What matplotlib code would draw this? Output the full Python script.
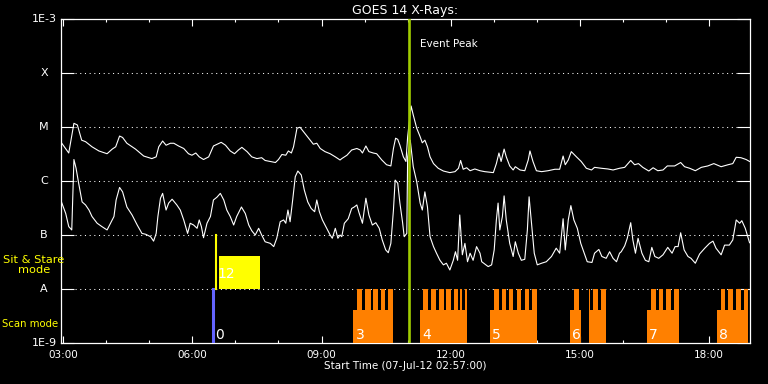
import matplotlib
matplotlib.use("Agg")
import matplotlib.pyplot as plt
from matplotlib.ticker import FixedLocator, MultipleLocator, FuncFormatter, NullLocator

# ==========================================
# 1. Data
# ==========================================
T_START, T_END = 2.95, 18.95   # hours, 02:57 -> 18:57
EVENT_T = 11.04

# GOES long channel (1-8 A), hours / W m^-2
long_t = [2.96, 3.13, 3.25, 3.33, 3.43, 3.52, 3.67, 3.83, 4.02, 4.14,
          4.22, 4.31, 4.38, 4.48, 4.68, 4.87, 5.06, 5.16, 5.22, 5.31,
          5.39, 5.49, 5.57, 5.68, 5.80, 5.91, 5.99, 6.08, 6.16, 6.26,
          6.38, 6.49, 6.67, 6.77, 6.88, 6.98, 7.07, 7.15, 7.27, 7.38,
          7.50, 7.61, 7.69, 7.81, 7.93, 8.00, 8.08, 8.17, 8.23, 8.30,
          8.35, 8.43, 8.50, 8.58, 8.70, 8.81, 8.89, 8.97, 9.08, 9.20,
          9.32, 9.43, 9.47, 9.59, 9.70, 9.82, 9.90, 9.95, 10.03, 10.10,
          10.20, 10.28, 10.40, 10.51, 10.61, 10.67, 10.72, 10.77, 10.82, 10.90,
          10.96, 11.00, 11.08, 11.13, 11.21, 11.29, 11.34, 11.40, 11.46, 11.52,
          11.60, 11.71, 11.83, 11.98, 12.10, 12.18, 12.23, 12.29, 12.37, 12.45,
          12.56, 12.68, 12.79, 12.99, 13.06, 13.12, 13.17, 13.24, 13.29, 13.37,
          13.45, 13.50, 13.61, 13.72, 13.80, 13.84, 13.91, 13.99, 14.11, 14.26,
          14.42, 14.53, 14.61, 14.66, 14.73, 14.80, 14.92, 15.03, 15.15, 15.27,
          15.34, 15.50, 15.65, 15.77, 15.92, 16.04, 16.18, 16.27, 16.36, 16.46,
          16.60, 16.70, 16.81, 16.93, 17.03, 17.20, 17.34, 17.43, 17.55, 17.68,
          17.82, 17.97, 18.11, 18.28, 18.44, 18.55, 18.63, 18.74, 18.86, 18.94]
long_f = [5.1e-6, 3.3e-6, 1.17e-5, 1.09e-5, 5.7e-6, 5.35e-6, 4.3e-6, 3.6e-6, 3.2e-6, 3.9e-6,
          4.3e-6, 6.8e-6, 6.4e-6, 5.0e-6, 3.9e-6, 2.9e-6, 2.6e-6, 2.8e-6, 4.3e-6, 5.5e-6,
          4.6e-6, 5.0e-6, 5.0e-6, 4.45e-6, 4.0e-6, 3.2e-6, 3.0e-6, 3.3e-6, 2.8e-6, 2.5e-6,
          2.8e-6, 4.45e-6, 5.2e-6, 4.6e-6, 3.6e-6, 3.2e-6, 3.75e-6, 4.2e-6, 3.5e-6, 2.8e-6,
          2.6e-6, 2.7e-6, 2.4e-6, 2.3e-6, 2.2e-6, 2.5e-6, 3.1e-6, 3.0e-6, 3.6e-6, 3.3e-6,
          4.3e-6, 9.5e-6, 9.9e-6, 8.2e-6, 6.2e-6, 4.8e-6, 5.0e-6, 4.0e-6, 3.5e-6, 3.2e-6,
          2.8e-6, 2.45e-6, 2.6e-6, 3.0e-6, 3.75e-6, 4.0e-6, 3.75e-6, 3.3e-6, 4.45e-6, 3.5e-6,
          3.3e-6, 3.2e-6, 2.45e-6, 2.0e-6, 1.9e-6, 4.0e-6, 6.2e-6, 5.9e-6, 4.6e-6, 2.8e-6,
          2.3e-6, 6.6e-6, 2.45e-5, 1.67e-5, 9.5e-6, 6.6e-6, 5.1e-6, 5.7e-6, 4.3e-6, 2.8e-6,
          2.1e-6, 1.72e-6, 1.53e-6, 1.43e-6, 1.49e-6, 1.72e-6, 2.4e-6, 1.65e-6, 1.76e-6, 1.55e-6,
          1.67e-6, 1.55e-6, 1.49e-6, 1.43e-6, 2.1e-6, 3.3e-6, 2.3e-6, 3.9e-6, 2.8e-6, 1.9e-6,
          1.6e-6, 1.84e-6, 1.6e-6, 1.55e-6, 2.45e-6, 3.6e-6, 2.3e-6, 1.55e-6, 1.49e-6, 1.55e-6,
          1.65e-6, 1.65e-6, 2.9e-6, 2.0e-6, 2.45e-6, 3.5e-6, 2.8e-6, 2.3e-6, 1.72e-6, 1.6e-6,
          1.79e-6, 1.72e-6, 1.67e-6, 1.6e-6, 1.72e-6, 1.79e-6, 2.4e-6, 2.0e-6, 2.1e-6, 1.79e-6,
          1.53e-6, 1.76e-6, 1.55e-6, 1.6e-6, 1.9e-6, 1.9e-6, 2.2e-6, 1.84e-6, 1.72e-6, 1.55e-6,
          1.79e-6, 1.9e-6, 2.1e-6, 1.84e-6, 2.0e-6, 2.1e-6, 2.75e-6, 2.7e-6, 2.5e-6, 2.3e-6]

# GOES short channel (0.5-4 A)
short_t = [2.96, 3.06, 3.13, 3.20, 3.25, 3.30, 3.36, 3.44, 3.52, 3.60,
           3.67, 3.79, 3.90, 4.02, 4.10, 4.18, 4.23, 4.31, 4.38, 4.48,
           4.60, 4.72, 4.83, 4.92, 5.03, 5.10, 5.16, 5.20, 5.26, 5.31,
           5.39, 5.45, 5.53, 5.64, 5.72, 5.80, 5.89, 5.95, 6.03, 6.11,
           6.16, 6.21, 6.26, 6.34, 6.42, 6.49, 6.57, 6.65, 6.73, 6.80,
           6.88, 6.96, 7.03, 7.14, 7.23, 7.31, 7.38, 7.46, 7.54, 7.61,
           7.69, 7.81, 7.89, 7.96, 8.04, 8.12, 8.17, 8.22, 8.27, 8.33,
           8.39, 8.45, 8.53, 8.60, 8.68, 8.76, 8.84, 8.89, 8.95, 9.02,
           9.12, 9.20, 9.25, 9.32, 9.38, 9.43, 9.47, 9.53, 9.62, 9.70,
           9.76, 9.82, 9.87, 9.95, 10.03, 10.10, 10.18, 10.26, 10.34, 10.41,
           10.49, 10.55, 10.61, 10.67, 10.71, 10.77, 10.82, 10.88, 10.92, 10.98,
           11.00, 11.06, 11.13, 11.21, 11.29, 11.34, 11.40, 11.46, 11.52, 11.60,
           11.67, 11.75, 11.83, 11.90, 11.98, 12.06, 12.11, 12.16, 12.21, 12.27,
           12.33, 12.39, 12.45, 12.52, 12.60, 12.68, 12.72, 12.79, 12.87, 12.95,
           13.01, 13.06, 13.10, 13.14, 13.20, 13.24, 13.29, 13.37, 13.45, 13.50,
           13.57, 13.64, 13.72, 13.78, 13.82, 13.87, 13.94, 14.01, 14.11, 14.22,
           14.34, 14.45, 14.53, 14.61, 14.66, 14.73, 14.79, 14.86, 14.94, 15.02,
           15.10, 15.17, 15.28, 15.34, 15.44, 15.51, 15.61, 15.69, 15.77, 15.85,
           15.92, 15.96, 16.04, 16.10, 16.18, 16.23, 16.29, 16.35, 16.44, 16.52,
           16.60, 16.67, 16.74, 16.83, 16.93, 17.04, 17.14, 17.21, 17.28, 17.34,
           17.42, 17.51, 17.58, 17.68, 17.78, 17.90, 18.01, 18.09, 18.16, 18.28,
           18.36, 18.47, 18.55, 18.63, 18.71, 18.76, 18.84, 18.94]
short_f = [4.1e-7, 2.5e-7, 1.43e-7, 1.24e-7, 2.5e-6, 1.72e-6, 9.1e-7, 4.1e-7, 3.6e-7, 2.9e-7,
           2.2e-7, 1.65e-7, 1.43e-7, 1.24e-7, 1.65e-7, 2.2e-7, 4.45e-7, 7.6e-7, 6.3e-7, 3.3e-7,
           2.35e-7, 1.53e-7, 1.07e-7, 1.03e-7, 9.3e-8, 7.7e-8, 1.07e-7, 2.2e-7, 4.8e-7, 5.9e-7,
           2.9e-7, 3.9e-7, 4.6e-7, 3.6e-7, 2.9e-7, 1.9e-7, 1.07e-7, 1.65e-7, 1.53e-7, 1.33e-7,
           1.9e-7, 1.43e-7, 8.9e-8, 1.65e-7, 2.2e-7, 4.45e-7, 5.0e-7, 5.9e-7, 4.45e-7, 2.9e-7,
           2.2e-7, 1.53e-7, 2.2e-7, 3.3e-7, 2.5e-7, 1.53e-7, 1.2e-7, 1.0e-7, 1.33e-7, 1.0e-7,
           7.5e-8, 7.0e-8, 6.1e-8, 8.7e-8, 1.76e-7, 1.9e-7, 1.65e-7, 2.9e-7, 1.76e-7, 4.45e-7,
           1.2e-6, 1.53e-6, 1.29e-6, 6.8e-7, 4.1e-7, 3.1e-7, 2.7e-7, 4.45e-7, 2.7e-7, 1.9e-7,
           1.33e-7, 1.0e-7, 8.7e-8, 1.33e-7, 8.7e-8, 1.0e-7, 9.3e-8, 1.65e-7, 2.0e-7, 3.1e-7,
           3.3e-7, 3.6e-7, 2.6e-7, 1.65e-7, 4.8e-7, 2.35e-7, 1.53e-7, 1.69e-7, 1.33e-7, 8.1e-8,
           5.3e-8, 4.7e-8, 7.0e-8, 2.9e-7, 1.04e-6, 9.1e-7, 3.9e-7, 1.76e-7, 9.3e-8, 1.07e-7,
           2.8e-6, 5.7e-6, 1.84e-6, 9.7e-7, 3.9e-7, 2.9e-7, 6.3e-7, 3.3e-7, 9.3e-8, 6.1e-8,
           4.6e-8, 3.4e-8, 2.8e-8, 3.0e-8, 2.25e-8, 3.4e-8, 4.9e-8, 3.4e-8, 2.35e-7, 4.3e-8,
           7.0e-8, 3.2e-8, 4.6e-8, 3.4e-8, 6.1e-8, 4.6e-8, 3.2e-8, 2.9e-8, 2.6e-8, 2.8e-8,
           5.3e-8, 1.9e-7, 3.9e-7, 1.24e-7, 2.2e-7, 5.3e-7, 1.9e-7, 7.0e-8, 4.0e-8, 7.5e-8,
           4.6e-8, 3.4e-8, 3.55e-8, 1.24e-7, 5.1e-7, 1.9e-7, 4.6e-8, 2.8e-8, 3.0e-8, 3.2e-8,
           4.0e-8, 5.7e-8, 4.6e-8, 2.0e-7, 5.3e-8, 1.9e-7, 3.5e-7, 1.9e-7, 1.33e-7, 7.0e-8,
           4.6e-8, 3.2e-8, 3.1e-8, 4.6e-8, 5.4e-8, 4.0e-8, 3.7e-8, 4.9e-8, 3.7e-8, 3.2e-8,
           4.6e-8, 4.9e-8, 6.3e-8, 8.7e-8, 1.69e-7, 8.1e-8, 4.6e-8, 8.7e-8, 4.6e-8, 3.4e-8,
           3.2e-8, 5.9e-8, 4.0e-8, 3.7e-8, 4.3e-8, 5.9e-8, 4.6e-8, 6.1e-8, 6.1e-8, 1.1e-7,
           5.3e-8, 4.0e-8, 3.7e-8, 3.0e-8, 4.45e-8, 5.7e-8, 7.0e-8, 7.7e-8, 5.7e-8, 4.3e-8,
           6.5e-8, 6.5e-8, 8.1e-8, 1.9e-7, 1.65e-7, 1.84e-7, 1.33e-7, 7.2e-8]

# IRIS-style observing timeline
scan0_t = 6.49                       # single raster, scan 0
sit_line_t = 6.54
sit_start, sit_end = 6.63, 7.56      # sit & stare block 12
sit_level = 4.1e-8

box_start = [9.74, 11.29, 12.92, 14.77, 15.21, 16.56, 18.18]
box_end = [10.67, 12.38, 14.01, 15.03, 15.61, 17.30, 18.90]
box_level = 4.1e-9
tooth_start = [9.83, 10.02, 10.20, 10.37, 10.55,
               11.36, 11.55, 11.73, 11.90, 12.08, 12.22, 12.34,
               13.01, 13.20, 13.36, 13.54, 13.73, 13.89,
               14.86, 15.21, 15.31, 15.49,
               16.65, 16.84, 17.00, 17.18,
               18.27, 18.44, 18.62, 18.81]
tooth_end = [9.95, 10.14, 10.32, 10.48, 10.67,
             11.48, 11.66, 11.85, 12.01, 12.17, 12.27, 12.38,
             13.13, 13.29, 13.45, 13.64, 13.82, 14.01,
             14.98, 15.24, 15.42, 15.61,
             16.77, 16.93, 17.11, 17.30,
             18.37, 18.55, 18.74, 18.90]
tooth_level = 1e-8

scan_labels = ["0", "3", "4", "5", "6", "7", "8"]
scan_label_t = [6.49, 9.74, 11.29, 12.92, 14.77, 16.56, 18.18]

ytick_vals = [1e-9, 1e-8, 1e-7, 1e-6, 1e-5, 1e-4, 1e-3]
ytick_labels = ["1E-9", "A", "B", "C", "M", "X", "1E-3"]

ORANGE = "#ff8000"
EVENT_COLOR = "#a0cc00"
BLUE = "#6464ff"
YELLOW = "#ffff00"


def main():
    fig = plt.figure(figsize=(7.68, 3.84), dpi=100, facecolor="black")
    ax = fig.add_axes([61 / 768, 41 / 384, 689 / 768, 324 / 384])
    ax.set_facecolor("black")
    ax.set_yscale("log")
    ax.set_xlim(T_START, T_END)
    ax.set_ylim(1e-9, 1e-3)

    # dotted flare-class lines
    for v in ytick_vals[1:-1]:
        ax.axhline(v, color="white", lw=0.75, linestyle=(0, (1, 3.5)), zorder=1)

    ax.plot(long_t, long_f, color="white", lw=0.8, zorder=2)
    ax.plot(short_t, short_f, color="white", lw=0.8, zorder=2)

    # scan mode blocks
    widths = [e - s for s, e in zip(box_start, box_end)]
    ax.bar(box_start, [box_level - 1e-9] * len(box_start), width=widths,
           bottom=1e-9, align="edge", color=ORANGE, lw=0, zorder=3)
    widths = [e - s for s, e in zip(tooth_start, tooth_end)]
    ax.bar(tooth_start, [tooth_level - 1e-9] * len(tooth_start), width=widths,
           bottom=1e-9, align="edge", color=ORANGE, lw=0, zorder=3)

    # scan 0 and sit & stare
    ax.plot([scan0_t, scan0_t], [1e-9, 1e-8], color=BLUE, lw=2.2, zorder=3)
    ax.plot([sit_line_t, sit_line_t], [1e-8, 1e-7], color=YELLOW, lw=1.5, zorder=3)
    ax.bar(sit_start, sit_level - 1e-8, width=sit_end - sit_start, bottom=1e-8,
           align="edge", color=YELLOW, lw=0, zorder=3)

    for lab, t in zip(scan_labels, scan_label_t):
        ax.annotate(lab, (t, 1e-9), xytext=(1.5, 2.7), textcoords="offset points",
                    color="white", fontsize=10, va="baseline", ha="left", zorder=5)
    ax.annotate("12", (sit_line_t, 1e-8), xytext=(1, 7.7), textcoords="offset points",
                color="white", fontsize=10, va="baseline", ha="left", zorder=5)

    # event peak
    ax.axvline(EVENT_T, color=EVENT_COLOR, lw=1.9, zorder=4)
    ax.annotate("Event Peak", (EVENT_T, 1e-3), xytext=(7.3, -20),
                textcoords="offset points", color="white", fontsize=7.5,
                va="baseline", ha="left")

    # axes styling
    for sp in ax.spines.values():
        sp.set_color("white")
        sp.set_linewidth(0.9)
    ax.yaxis.set_major_locator(FixedLocator(ytick_vals))
    ax.yaxis.set_minor_locator(NullLocator())
    ax.xaxis.set_major_locator(MultipleLocator(3))
    ax.xaxis.set_minor_locator(MultipleLocator(1))
    ax.xaxis.set_major_formatter(FuncFormatter(lambda v, p: f"{int(round(v)):02d}:00"))
    ax.tick_params(axis="y", which="major", direction="in", length=9.5, width=0.8,
                   colors="white", left=True, right=True, labelleft=False)
    ax.tick_params(axis="x", which="major", direction="in", length=5, width=0.8,
                   colors="white", top=True, bottom=True, labelsize=7.5, pad=5)
    ax.tick_params(axis="x", which="minor", direction="in", length=2.5, width=0.8,
                   colors="white", top=True, bottom=True)

    # y labels: exponents right-aligned at the axis, class letters set further left
    ytrans = ax.get_yaxis_transform()
    for v, lab in zip(ytick_vals, ytick_labels):
        if lab.startswith("1E"):
            ax.text(-4 / 689, v, lab, transform=ytrans, color="white", fontsize=8,
                    ha="right", va="center")
        else:
            ax.text(-17 / 689, v, lab, transform=ytrans, color="white", fontsize=8,
                    ha="center", va="center")

    ax.set_title("GOES 14 X-Rays:", color="white", fontsize=9, pad=3.5)
    ax.set_xlabel("Start Time (07-Jul-12 02:57:00)", color="white", fontsize=7.5,
                  labelpad=1)

    fig.text(34 / 768, 1 - 265 / 384, "Sit & Stare\nmode", color=YELLOW,
             fontsize=8.2, ha="center", va="center", linespacing=1.05)
    fig.text(2 / 768, 1 - 324 / 384, "Scan mode", color=YELLOW,
             fontsize=7.3, ha="left", va="center")

    fig.savefig("out.png", dpi=100, facecolor="black")
    plt.close(fig)


if __name__ == "__main__":
    main()
